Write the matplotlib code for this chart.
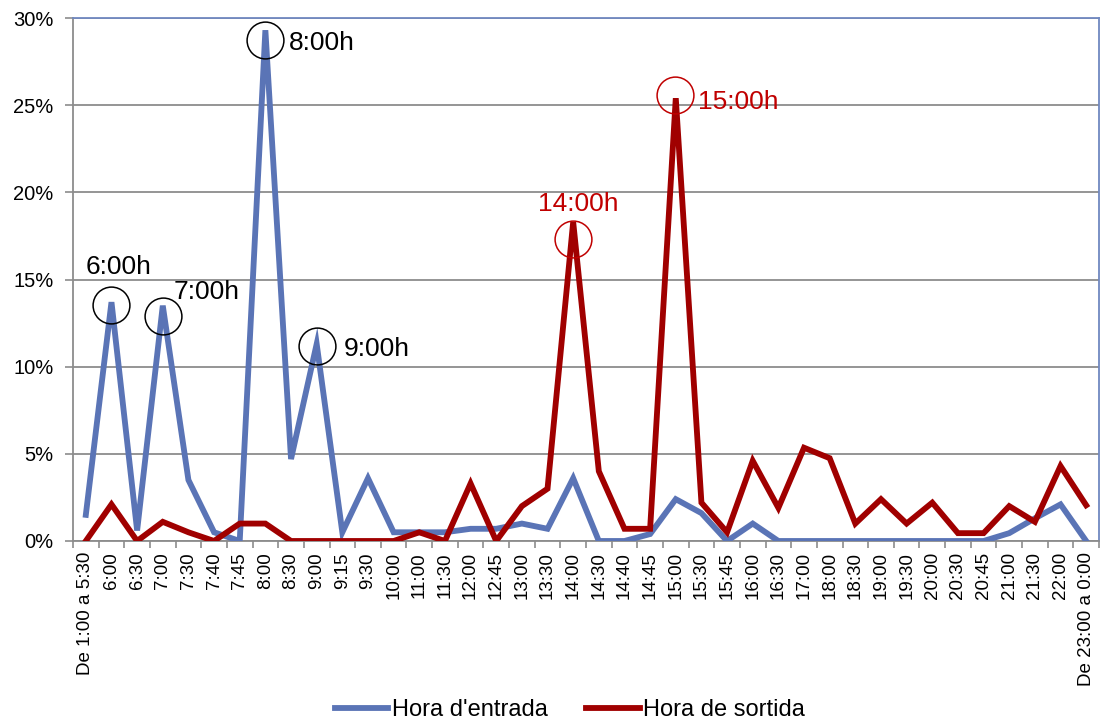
import matplotlib
matplotlib.use("Agg")
import matplotlib.pyplot as plt
from matplotlib.transforms import offset_copy
import numpy as np

plt.rcParams['font.family'] = ['Liberation Sans', 'DejaVu Sans']

# data
categories = ["De 1:00 a 5:30", "6:00", "6:30", "7:00", "7:30", "7:40", "7:45",
              "8:00", "8:30", "9:00", "9:15", "9:30", "10:00", "11:00", "11:30",
              "12:00", "12:45", "13:00", "13:30", "14:00", "14:30", "14:40",
              "14:45", "15:00", "15:30", "15:45", "16:00", "16:30", "17:00",
              "18:00", "18:30", "19:00", "19:30", "20:00", "20:30", "20:45",
              "21:00", "21:30", "22:00", "De 23:00 a 0:00"]

entrada = [1.5, 13.7, 0.6, 13.5, 3.5, 0.5, 0.0, 29.3, 4.7, 11.3, 0.5, 3.6, 0.5,
           0.5, 0.5, 0.7, 0.7, 1.0, 0.7, 3.6, 0.0, 0.0, 0.4, 2.4, 1.6, 0.0, 1.0,
           0.0, 0.0, 0.0, 0.0, 0.0, 0.0, 0.0, 0.0, 0.0, 0.45, 1.3, 2.1, 0.0]

sortida = [0.0, 2.1, 0.0, 1.1, 0.5, 0.0, 1.0, 1.0, 0.0, 0.0, 0.0, 0.0, 0.0, 0.5,
           0.0, 3.3, 0.0, 2.0, 3.0, 18.3, 4.0, 0.7, 0.7, 25.4, 2.2, 0.5, 4.6, 1.9,
           5.35, 4.75, 1.0, 2.4, 1.0, 2.2, 0.45, 0.45, 2.0, 1.1, 4.3, 2.05]

series_labels = ["Hora d'entrada", "Hora de sortida"]

# highlighted peaks: (category, label)
peaks_entrada = [("6:00", "6:00h"), ("7:00", "7:00h"), ("8:00", "8:00h"), ("9:00", "9:00h")]
peaks_sortida = [("14:00", "14:00h"), ("15:00", "15:00h")]

blue = "#5A74B6"
red = "#A00000"

fig = plt.figure(figsize=(11.01, 7.22), dpi=100)
ax = fig.add_axes([73 / 1101, 1 - 541 / 722, (1099 - 73) / 1101, (541 - 18) / 722])

x = np.arange(len(categories)) + 0.5
ax.plot(x, entrada, color=blue, lw=4.2, label=series_labels[0], solid_joinstyle='miter', zorder=3)
ax.plot(x, sortida, color=red, lw=4.2, label=series_labels[1], solid_joinstyle='miter', zorder=3)

ax.set_xlim(0, len(categories))
ax.set_ylim(0, 30)
ax.set_yticks(np.arange(0, 31, 5))
ax.set_yticklabels([f"{v}%" for v in range(0, 31, 5)], fontsize=14.5)
ax.set_xticks(np.arange(0, len(categories) + 1))
ax.set_xticklabels([])
ax.set_xticks(x, minor=True)
ax.set_xticklabels(categories, minor=True, rotation=90, fontsize=13.5)
ax.tick_params(axis='x', which='minor', length=0, pad=8)
ax.tick_params(axis='x', which='major', length=5, width=1.2, color="#8C8C8C", direction='out')
ax.tick_params(axis='y', length=6, width=1.2, color="#8C8C8C", direction='out', pad=8)
ax.grid(axis='y', color="#8C8C8C", lw=1.3)
ax.set_axisbelow(True)

for s in ['left', 'bottom']:
    ax.spines[s].set_color("#8C8C8C")
    ax.spines[s].set_linewidth(1.3)
for s in ['top', 'right']:
    ax.spines[s].set_color("#7088C0")
    ax.spines[s].set_linewidth(1.3)

# offsets in pixels: text (dx, dy), circle (dx, dy)
text_off = {"6:00h": (-26, 35), "7:00h": (11, 14), "8:00h": (24, -13),
            "9:00h": (27, -5), "14:00h": (-35, 18), "15:00h": (22, -4)}
circ_off = {"6:00h": (0, -3), "7:00h": (0, -10), "8:00h": (0, -10),
            "9:00h": (0, -2), "14:00h": (0, -17), "15:00h": (-1, 3)}

def mark_peaks(peaks, values, color):
    for cat, lab in peaks:
        i = categories.index(cat)
        px, py = x[i], values[i]
        cdx, cdy = circ_off[lab]
        tr = offset_copy(ax.transData, fig=fig, x=cdx, y=cdy, units='dots')
        ax.plot([px], [py], marker='o', ms=26.5, mfc='none', mec=color, mew=1.1,
                transform=tr, zorder=4, clip_on=False)
        tdx, tdy = text_off[lab]
        tr = offset_copy(ax.transData, fig=fig, x=tdx, y=tdy, units='dots')
        ax.text(px, py, lab, color=color, fontsize=19, ha='left', va='center',
                transform=tr, zorder=5)

mark_peaks(peaks_entrada, entrada, "black")
mark_peaks(peaks_sortida, sortida, "#C00000")

fig.legend(loc='center', bbox_to_anchor=(570 / 1101, 1 - 710 / 722), ncol=2, frameon=False,
           fontsize=17, handlelength=2.25, handletextpad=0.15, columnspacing=1.65,
           borderpad=0, borderaxespad=0)

fig.savefig("out.png", dpi=100)
